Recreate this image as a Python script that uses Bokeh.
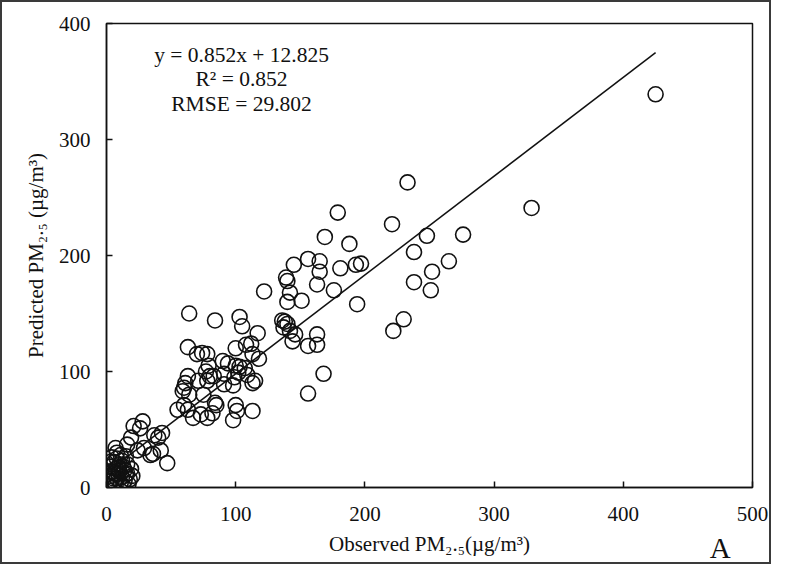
from bokeh.plotting import figure
from bokeh.models import Range1d, Label, FixedTicker, LinearAxis
from bokeh.embed import file_html
from bokeh.resources import INLINE

# ---- data ----
observed = [
    425, 329, 233, 276, 248, 238, 265, 252, 238, 251, 230, 222, 221, 179, 188, 169,
    193, 197, 181, 194, 176, 168, 156, 156, 165, 165, 145, 139, 140, 163, 142, 140,
    151, 136, 138, 140, 137, 142, 146, 163, 144, 156, 163, 122,
    64, 84, 103, 105, 117, 100, 108, 112, 113, 63, 70, 74, 78, 118, 90, 94, 100, 103,
    107, 79, 77, 80, 83, 91, 99, 102, 109, 63, 61, 71, 78, 91, 98, 113, 115, 60, 64,
    75, 84, 85, 100, 101, 113, 60, 63, 73, 67, 78, 98, 82, 55, 59,
    28, 21, 26, 37, 43, 40, 19, 16, 29, 34, 36, 24, 7, 47, 15, 42,
    2, 3, 4, 5, 3, 6, 4, 7, 8, 9, 7, 10, 8, 11, 12, 10, 13, 12, 14, 15, 14, 16,
    5, 6, 9, 11, 17, 18, 16, 13, 6, 19, 2, 8, 20, 3,
]
predicted = [
    339, 241, 263, 218, 217, 203, 195, 186, 177, 170, 145, 135, 227, 237, 210, 216,
    192, 193, 189, 158, 170, 98, 81, 197, 195, 186, 192, 181, 178, 175, 168, 160,
    161, 144, 143, 141, 138, 135, 132, 132, 126, 122, 123, 169,
    150, 144, 147, 139, 133, 120, 123, 124, 115, 121, 115, 116, 115, 111, 109, 107, 105, 104,
    103, 105, 100, 96, 96, 98, 95, 99, 97, 96, 90, 92, 92, 89, 88, 90, 92, 86, 80,
    80, 73, 71, 71, 66, 66, 71, 67, 63, 60, 60, 58, 64, 67, 83,
    57, 53, 51, 45, 47, 43, 43, 37, 34, 28, 29, 32, 34, 21, 27, 32,
    1, 5, 10, 14, 18, 22, 26, 2, 8, 12, 16, 20, 25, 4, 9, 14, 18, 23, 6, 11, 15, 20,
    8, 12, 17, 28, 3, 7, 12, 1, 5, 16, 12, 30, 10, 22,
]
slope = 0.852
intercept = 12.825
stats_lines = ["y = 0.852x + 12.825", "R\u00b2 = 0.852", "RMSE = 29.802"]
x_ticks = [0, 100, 200, 300, 400, 500]
y_ticks = [0, 100, 200, 300, 400]
x_title = "Observed PM\u2082.\u2085(\u00b5g/m\u00b3)"
y_title = "Predicted PM\u2082.\u2085 (\u00b5g/m\u00b3)"
panel_tag = "A"
panel_tag_x = 475

FONT = "Liberation Serif"
INK = "#111111"

p = figure(width=771, height=564, output_backend="svg", toolbar_location=None,
           x_range=Range1d(0, 500), y_range=Range1d(0, 400),
           min_border_left=104, min_border_right=21, min_border_top=21, min_border_bottom=76)
p.styles = {"border": "2px solid #3a3a3a"}
p.grid.visible = False
p.outline_line_color = INK
p.outline_line_width = 1.5
p.outline_line_alpha = 1.0
p.background_fill_color = "white"
p.border_fill_color = "white"

p.xaxis.ticker = FixedTicker(ticks=x_ticks)
p.yaxis.ticker = FixedTicker(ticks=y_ticks)
for ax in (p.xaxis, p.yaxis):
    ax.axis_line_color = INK
    ax.axis_line_width = 1.5
    ax.major_tick_line_color = INK
    ax.major_tick_line_width = 1.5
    ax.major_tick_in = 6
    ax.major_tick_out = 0
    ax.minor_tick_line_color = None
    ax.major_label_text_font = FONT
    ax.major_label_text_font_size = "21px"
    ax.major_label_text_color = "#111111"
    ax.axis_label_text_font = FONT
    ax.axis_label_text_font_size = "21px"
    ax.axis_label_text_font_style = "normal"
    ax.axis_label_text_color = "#111111"
p.xaxis.major_label_standoff = 19
p.yaxis.major_label_standoff = 16
p.xaxis.axis_label = x_title
p.yaxis.axis_label = y_title
p.xaxis.axis_label_standoff = 8
p.yaxis.axis_label_standoff = 8

# panel tag "A" drawn as the single label of an extra, line-less bottom axis
tag_axis = LinearAxis(ticker=FixedTicker(ticks=[panel_tag_x]),
                      major_label_overrides={panel_tag_x: panel_tag},
                      axis_line_color=None, major_tick_line_color=None,
                      minor_tick_line_color=None,
                      major_label_text_font=FONT, major_label_text_font_size="29px",
                      major_label_text_color="#111111", major_label_standoff=-33)
p.add_layout(tag_axis, "below")

# regression line
x0, x1 = min(observed), max(observed)
p.line([x0, x1], [slope * x0 + intercept, slope * x1 + intercept],
       line_color=INK, line_width=1.5)

# scatter
p.scatter(observed, predicted, marker="circle", size=15, fill_color=None,
          line_color=INK, line_width=1.6)

# stats text
for txt, yy in zip(stats_lines, [372.5, 352, 331]):
    p.add_layout(Label(x=104.5, y=yy, text=txt, text_align="center",
                       text_baseline="middle", text_font=FONT,
                       text_font_size="21.5px", text_color="#111111"))

open("out.html", "w").write(file_html(p, INLINE))
